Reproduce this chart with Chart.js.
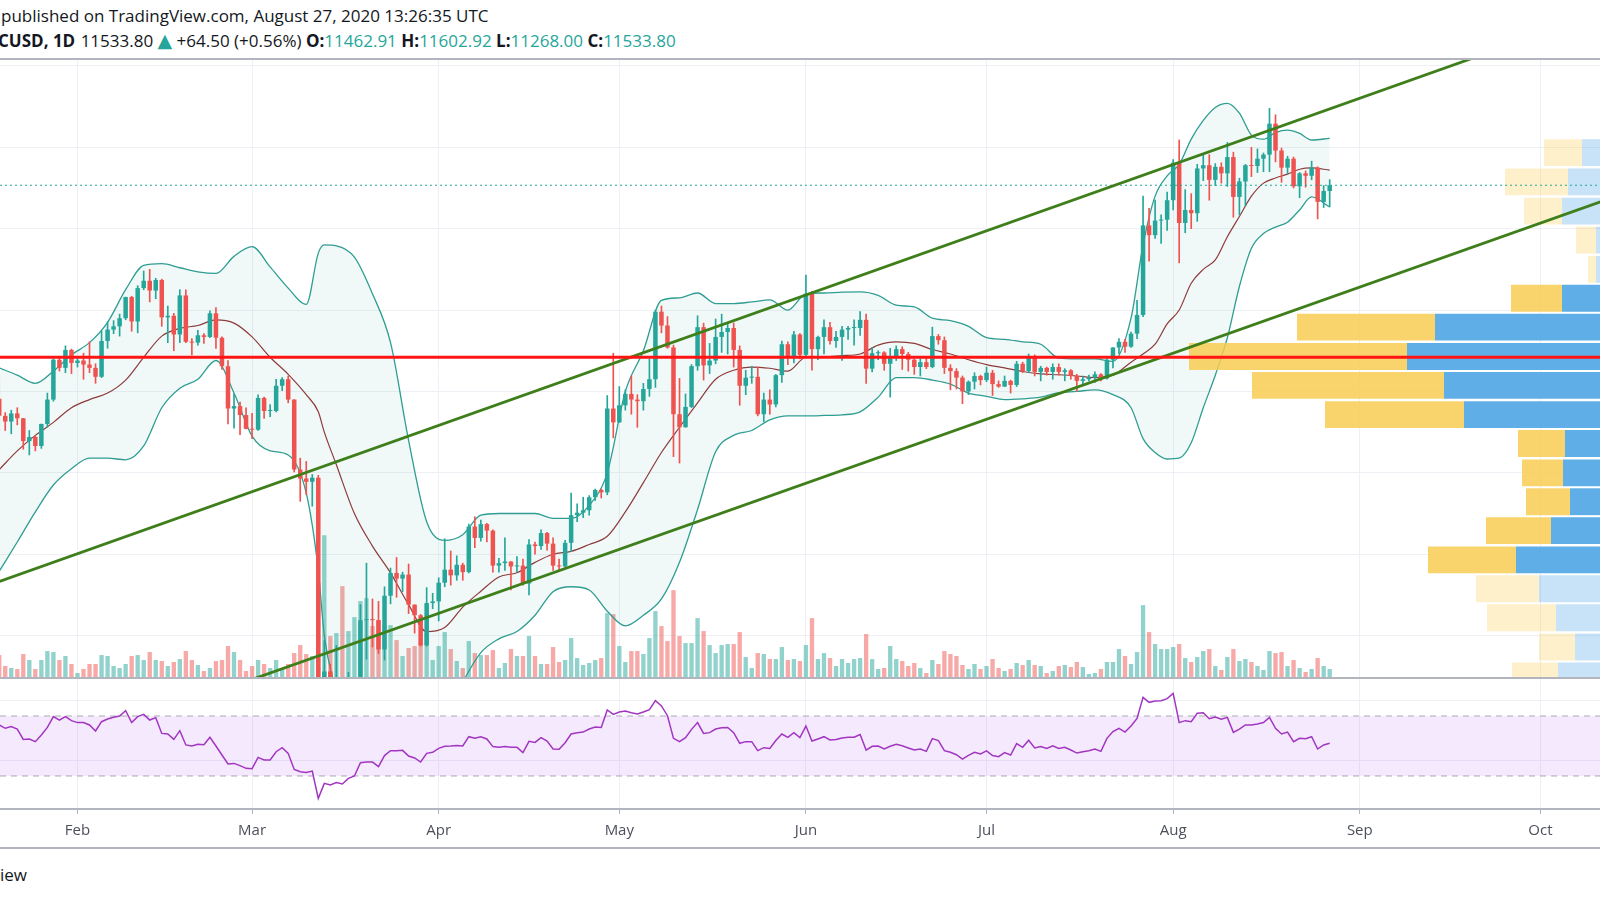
<!DOCTYPE html>
<html lang="en">
<head>
  <meta charset="UTF-8">
  <title>BTCUSD 1D</title>
  <script src="https://cdn.jsdelivr.net/npm/chart.js@4.4.0/dist/chart.umd.min.js"></script>
  <style>
    html, body { margin: 0; padding: 0; background: #ffffff; }
    body { width: 1600px; height: 900px; position: relative; overflow: hidden; font-family: 'Open Sans', sans-serif; color: #131722; }
    .txt { position: absolute; left: 0; white-space: pre; font-size: 17px; line-height: 20px; }
    .txt b { font-weight: 700; }
    .up { color: #26a69a; }
    .tri { color: #26a69a; font-size: 19px; font-family: 'DejaVu Sans', sans-serif; }
    .sep { position: absolute; left: 0; width: 1600px; height: 2px; background: #b2b5be; }
    canvas { position: absolute; left: 0; }
  </style>
</head>
<body>
  <div class="txt" style="top:6px; left:1px;">published on TradingView.com, August 27, 2020 13:26:35 UTC</div>
  <div class="txt" style="top:30px; left:-2px;"><b>CUSD, 1D</b> <span style="margin-left:1px">11533.80</span> <span class="tri">▲</span> +64.50 (+0.56%) <b>O:</b><span class="up">11462.91</span> <b>H:</b><span class="up">11602.92</span> <b>L:</b><span class="up">11268.00</span> <b>C:</b><span class="up">11533.80</span></div>

  <canvas id="main" width="1600" height="619" style="top:59px;"></canvas>
  <canvas id="rsi" width="1600" height="171" style="top:678px;"></canvas>

  <div class="sep" style="top:58px;"></div>
  <div class="sep" style="top:677px;"></div>
  <div class="sep" style="top:808px;"></div>
  <div class="sep" style="top:847px;"></div>
  <div class="txt" style="top:865px;">iew</div>

  <script>
    // day numbers: 2020 day of year, Jan 1 = 0. First candle is Jan 19.
    const firstDay = 18;
    const viewFrom = 18.13, viewTo = 283.9;

    const monthLabels = ['Feb', 'Mar', 'Apr', 'May', 'Jun', 'Jul', 'Aug', 'Sep', 'Oct'];
    const monthDays = [31, 60, 91, 121, 152, 182, 213, 244, 274];
    const priceGrid = [6000, 7000, 8000, 9000, 10000, 11000, 12000, 13000];

    // daily OHLC, Jan 19 -> Aug 27 2020
    const open = [
      8910, 8700, 8630, 8730, 8670, 8390, 8440, 8330, 8600, 8900, 9390, 9290, 9510,
      9350, 9380, 9330, 9290, 9180, 9620, 9760, 9800, 9900, 10160, 9860, 10270, 10360, 10240, 10370, 9910, 9930, 9700, 10180, 9610, 9600, 9690, 9670, 9960, 9660, 9310, 8790, 8820, 8710,
      8540, 8530, 8920, 8760, 8760, 9070, 9150, 8900, 8040, 7930, 7890, 7940, 4860, 5560, 5170, 5360, 5030, 5330, 5420, 6190, 6200, 6190, 5830, 6490, 6770, 6700, 6750, 6380, 6250, 5880, 6400,
      6420, 6650, 6810, 6740, 6870, 6780, 7340, 7200, 7370, 7290, 6860, 6890, 6910, 6850, 6860, 6640, 7120, 7100, 7260, 7130, 6860, 6850, 7140, 7480, 7510, 7540, 7700, 7790, 7760, 8790,
      8620, 8830, 8970, 8900, 8880, 9030, 9150, 9980, 9810, 9540, 8720, 8560, 8810, 9310, 9790, 9320, 9380, 9670, 9730, 9780, 9510, 9070, 9170, 9180, 8720, 8900, 8840, 9200, 9580, 9430, 9700,
      9450, 10200, 9520, 9670, 9790, 9620, 9670, 9760, 9780, 9780, 9880, 9280, 9470, 9480, 9340, 9430, 9520, 9460, 9390, 9300, 9360, 9300, 9680, 9630, 9290, 9250, 9170, 9000, 9120, 9190,
      9140, 9230, 9090, 9060, 9130, 9080, 9340, 9250, 9430, 9240, 9290, 9240, 9300, 9240, 9260, 9190, 9130, 9150, 9170, 9210, 9160, 9390, 9540, 9610, 9550, 9710, 9940, 11040, 10920, 11100, 11110,
      11350, 11810, 11070, 11230, 11190, 11740, 11780, 11600, 11760, 11680, 11880, 11390, 11580, 11780, 11770, 11860, 11910, 12290, 11960, 11750, 11860, 11520, 11680, 11650, 11750, 11330, 11462.91
    ];
    const high = [
      9170, 8740, 8770, 8800, 8670, 8520, 8450, 8600, 8980, 9400, 9420, 9560, 9520,
      9430, 9470, 9610, 9340, 9740, 9860, 9870, 9950, 10160, 10170, 10300, 10480, 10500, 10390, 10380, 10050, 9960, 10250, 10250, 9650, 9750, 9710, 9990, 10030, 9670, 9380, 8970, 8870, 8800,
      8730, 8960, 8930, 8840, 9150, 9170, 9190, 8900, 8180, 8140, 7980, 7970, 5940, 5650, 5880, 5370, 5550, 5440, 6380, 6890, 6450, 6420, 6600, 6830, 6960, 6780, 6880, 6380, 6260, 6590, 6520,
      6710, 7190, 7040, 6980, 6890, 7370, 7460, 7420, 7380, 7300, 6950, 7200, 6910, 6970, 6940, 7180, 7150, 7300, 7270, 7200, 6940, 7170, 7750, 7620, 7700, 7720, 7800, 7800, 8950, 9470,
      9060, 9020, 9190, 8960, 9100, 9400, 10000, 10050, 9920, 9570, 9160, 8970, 9330, 9930, 9840, 9590, 9890, 9950, 9850, 9840, 9560, 9260, 9310, 9300, 8980, 9020, 9210, 9620, 9610, 9740, 9710,
      10430, 10230, 9680, 9880, 9850, 9740, 9800, 9800, 9880, 9980, 9950, 9540, 9500, 9490, 9530, 9560, 9550, 9480, 9400, 9400, 9420, 9790, 9700, 9670, 9330, 9280, 9190, 9130, 9230, 9200,
      9300, 9260, 9130, 9190, 9140, 9370, 9360, 9460, 9450, 9310, 9300, 9340, 9340, 9280, 9270, 9210, 9190, 9200, 9240, 9220, 9420, 9540, 9650, 9640, 9730, 10120, 11400, 11250, 11350, 11170, 11450,
      11850, 12090, 11480, 11430, 11790, 11920, 11910, 11800, 11810, 12060, 11940, 11620, 11790, 12000, 11980, 11930, 12480, 12400, 11990, 11890, 11880, 11690, 11710, 11830, 11760, 11530, 11602.92
    ];
    const low = [
      8480, 8520, 8480, 8590, 8290, 8220, 8270, 8300, 8560, 8880, 9250, 9230, 9220,
      9300, 9150, 9230, 9100, 9170, 9530, 9710, 9680, 9880, 9740, 9720, 10250, 10100, 10140, 9800, 9600, 9500, 9600, 9600, 9450, 9570, 9590, 9660, 9530, 9270, 8600, 8550, 8470, 8540,
      8420, 8520, 8670, 8690, 8750, 9010, 8860, 8010, 7650, 7730, 7590, 4400, 3850, 5090, 5100, 4450, 4960, 5080, 5280, 5710, 5860, 5780, 5700, 6390, 6470, 6540, 6270, 6030, 5870, 5870, 6330,
      6180, 6600, 6620, 6680, 6680, 6770, 7080, 7160, 7150, 6780, 6780, 6800, 6560, 6780, 6620, 6500, 7000, 7060, 7050, 6800, 6790, 6840, 7030, 7400, 7450, 7480, 7660, 7690, 7730, 8430,
      8620, 8770, 8720, 8560, 8770, 8940, 9050, 9720, 9530, 8200, 8120, 8560, 8800, 9260, 9140, 9220, 9340, 9480, 9460, 9300, 8830, 8960, 9100, 8700, 8630, 8720, 8810, 9110, 9330, 9350, 9400,
      9420, 9260, 9390, 9460, 9580, 9540, 9380, 9640, 9570, 9690, 9100, 9240, 9390, 9260, 8930, 9380, 9270, 9250, 9210, 9190, 9280, 9290, 9580, 9220, 9020, 9030, 8850, 8960, 9030, 9080,
      9120, 8950, 9050, 9060, 8980, 9060, 9230, 9230, 9190, 9130, 9200, 9150, 9200, 9130, 9150, 9000, 9090, 9130, 9110, 9130, 9150, 9290, 9460, 9480, 9540, 9650, 9920, 10600, 10880, 10820, 10980,
      11230, 10580, 10950, 11000, 11090, 11590, 11350, 11530, 11560, 11520, 11140, 11170, 11280, 11640, 11690, 11700, 11700, 11820, 11570, 11680, 11500, 11380, 11510, 11600, 11120, 11260, 11268.00
    ];
    const close = [
      8700, 8630, 8730, 8670, 8390, 8440, 8330, 8600, 8900, 9390, 9290, 9510, 9350,
      9380, 9330, 9290, 9180, 9620, 9760, 9800, 9900, 10160, 9860, 10270, 10360, 10240, 10370, 9910, 9930, 9700, 10180, 9610, 9600, 9690, 9670, 9960, 9660, 9310, 8790, 8820, 8710, 8540,
      8530, 8920, 8760, 8760, 9070, 9150, 8900, 8040, 7930, 7890, 7940, 4860, 5560, 5170, 5360, 5030, 5330, 5420, 6190, 6200, 6190, 5830, 6490, 6770, 6700, 6750, 6380, 6250, 5880, 6400, 6420,
      6650, 6810, 6740, 6870, 6780, 7340, 7200, 7370, 7290, 6860, 6890, 6910, 6850, 6860, 6640, 7120, 7100, 7260, 7130, 6860, 6850, 7140, 7480, 7510, 7540, 7700, 7790, 7760, 8790, 8620,
      8830, 8970, 8900, 8880, 9030, 9150, 9980, 9810, 9540, 8720, 8560, 8810, 9310, 9790, 9320, 9380, 9670, 9730, 9780, 9510, 9070, 9170, 9180, 8720, 8900, 8840, 9200, 9580, 9430, 9700, 9450,
      10200, 9520, 9670, 9790, 9620, 9670, 9760, 9780, 9780, 9880, 9280, 9470, 9480, 9340, 9430, 9520, 9460, 9390, 9300, 9360, 9300, 9680, 9630, 9290, 9250, 9170, 9000, 9120, 9190, 9140,
      9230, 9090, 9060, 9130, 9080, 9340, 9250, 9430, 9240, 9290, 9240, 9300, 9240, 9260, 9190, 9130, 9150, 9170, 9210, 9160, 9390, 9540, 9610, 9550, 9710, 9940, 11040, 10920, 11100, 11110, 11350,
      11810, 11070, 11230, 11190, 11740, 11780, 11600, 11760, 11680, 11880, 11390, 11580, 11780, 11770, 11860, 11910, 12290, 11960, 11750, 11860, 11520, 11680, 11650, 11750, 11330, 11462.91, 11533.80
    ];
    const volume = [
      23, 12, 10, 9, 24, 18, 9, 18, 27, 26, 18, 22, 14,
      5, 9, 14, 14, 23, 22, 12, 10, 14, 22, 23, 18, 26, 18, 17, 12, 16, 19, 27, 18, 13, 7, 10, 17, 18, 32, 26, 18, 7,
      12, 18, 14, 10, 18, 10, 14, 25, 33, 24, 22, 95, 143, 42, 45, 92, 47, 61, 77, 80, 52, 58, 53, 53, 38, 22, 30, 32, 35, 45, 18,
      32, 46, 29, 17, 10, 37, 25, 23, 23, 28, 10, 15, 29, 22, 22, 42, 22, 14, 14, 31, 16, 18, 40, 20, 13, 15, 18, 20, 65, 64,
      32, 16, 27, 27, 24, 40, 67, 52, 37, 88, 42, 35, 35, 60, 47, 33, 25, 33, 34, 34, 46, 21, 10, 25, 24, 19, 19, 31, 18, 19, 17,
      33, 60, 19, 25, 20, 12, 19, 15, 19, 20, 44, 19, 9, 10, 32, 19, 17, 12, 15, 10, 5, 18, 14, 27, 24, 22, 13, 9, 14, 9,
      12, 19, 10, 7, 9, 15, 13, 18, 13, 12, 5, 7, 12, 13, 11, 16, 11, 4, 5, 9, 16, 16, 29, 22, 14, 26, 73, 46, 34, 29, 29,
      31, 34, 20, 16, 21, 27, 29, 12, 8, 21, 29, 17, 19, 16, 12, 8, 27, 25, 26, 12, 18, 10, 6, 9, 20, 12, 9
    ];
    const rsi = [
      64.0, 61.8, 62.9, 61.3, 54.4, 54.7, 52.9, 57.3, 62.4, 69.6, 67.3, 69.6, 66.9,
      65.6, 65.6, 64.0, 60.0, 66.2, 68.0, 69.1, 70.0, 73.6, 65.6, 69.6, 71.1, 67.3, 68.9, 58.4, 58.0, 54.4, 60.2, 50.7, 50.0, 51.1, 50.9, 55.8, 50.0, 44.0, 38.0, 38.4, 36.9, 35.1,
      34.9, 42.4, 40.7, 40.7, 46.2, 48.9, 45.1, 34.4, 32.9, 32.4, 33.3, 15.1, 25.1, 24.0, 25.6, 24.7, 28.4, 30.0, 38.9, 39.3, 39.3, 36.2, 43.6, 46.9, 46.9, 47.1, 43.3, 42.0, 39.3, 45.1, 45.8,
      48.4, 49.8, 50.0, 50.4, 50.0, 56.2, 55.1, 56.2, 54.7, 49.6, 49.1, 49.6, 49.1, 49.1, 45.6, 53.1, 52.4, 55.6, 53.3, 48.0, 47.8, 52.2, 58.0, 58.9, 59.3, 61.3, 62.7, 62.4, 74.0, 71.1,
      72.7, 73.3, 72.2, 71.3, 72.7, 74.2, 80.2, 76.7, 70.2, 55.1, 52.9, 55.6, 61.1, 65.6, 58.4, 58.9, 61.3, 62.2, 62.4, 58.9, 51.8, 52.9, 52.9, 46.9, 48.9, 48.4, 53.6, 58.0, 55.8, 58.9, 55.6,
      63.3, 53.3, 54.7, 56.2, 54.0, 54.4, 55.3, 55.8, 55.8, 57.6, 47.3, 49.8, 50.0, 48.0, 49.8, 51.1, 50.2, 48.7, 47.3, 48.0, 46.4, 54.9, 53.6, 46.9, 45.8, 44.2, 41.3, 43.8, 45.8, 44.7,
      46.7, 43.6, 42.9, 45.6, 44.0, 51.6, 49.1, 53.8, 48.7, 49.6, 48.4, 50.2, 48.4, 49.1, 47.3, 45.3, 46.2, 46.9, 48.0, 46.4, 55.1, 59.6, 61.8, 59.3, 63.3, 68.4, 82.4, 79.1, 80.0, 80.2, 81.6,
      85.1, 65.6, 66.9, 66.2, 71.8, 72.2, 68.2, 69.3, 67.8, 69.1, 59.1, 61.3, 64.0, 64.0, 64.7, 65.6, 69.1, 61.8, 58.0, 59.3, 52.9, 55.1, 54.9, 56.2, 48.0, 50.7, 51.8
    ];

    // Bollinger bands
    const bbDays = [18, 21, 24, 27, 30, 33, 36, 39, 42, 45, 48, 51, 54, 57, 60, 63, 66, 69, 71, 72, 74, 77, 80, 83, 86, 89, 92, 95, 98, 101, 104, 107, 110, 113, 116, 119, 122, 125, 128, 131, 134, 137, 140, 143, 146, 149, 152, 155, 158, 161, 164, 167, 170, 173, 176, 179, 182, 185, 188, 191, 194, 197, 200, 203, 206, 208, 210, 212, 214, 216, 218, 220, 222, 224, 226, 228, 230, 232, 234, 236, 239];
    const bbUpper = [9290, 9200, 9100, 9250, 9450, 9600, 9850, 10250, 10550, 10570, 10520, 10470, 10450, 10660, 10780, 10530, 10270, 10070, 10700, 10800, 10790, 10650, 10200, 9600, 8400, 7400, 7170, 7240, 7480, 7500, 7500, 7500, 7440, 7440, 7600, 8000, 9000, 9500, 10120, 10150, 10210, 10080, 10080, 10100, 10125, 10000, 10200, 10210, 10220, 10223, 10180, 10060, 10038, 9900, 9870, 9800, 9660, 9640, 9610, 9580, 9410, 9400, 9400, 9370, 9900, 10800, 11400, 11650, 11790, 12100, 12330, 12490, 12540, 12420, 12150, 12100, 12180, 12210, 12170, 12090, 12110];
    const bbBasis = [8040, 8270, 8460, 8620, 8800, 8900, 8980, 9140, 9420, 9680, 9775, 9810, 9880, 9840, 9670, 9420, 9210, 8960, 8750, 8500, 8100, 7500, 7100, 6770, 6380, 6050, 6100, 6350, 6545, 6720, 6773, 6900, 7000, 7035, 7120, 7220, 7520, 7880, 8250, 8560, 8860, 9150, 9260, 9300, 9285, 9250, 9420, 9425, 9440, 9460, 9570, 9610, 9590, 9515, 9460, 9390, 9330, 9290, 9245, 9215, 9205, 9190, 9170, 9200, 9360, 9460, 9580, 9830, 10000, 10330, 10500, 10616, 10900, 11150, 11400, 11560, 11623, 11670, 11730, 11746, 11720];
    const bbLower = [6790, 7150, 7520, 7850, 8050, 8180, 8180, 8160, 8330, 8800, 9040, 9150, 9380, 8980, 8450, 8270, 8220, 7750, 6800, 6000, 5300, 4400, 3950, 3900, 4300, 4700, 5000, 5430, 5790, 5960, 6050, 6250, 6540, 6600, 6560, 6300, 6120, 6250, 6450, 6900, 7550, 8260, 8460, 8520, 8650, 8700, 8700, 8705, 8713, 8750, 8930, 9170, 9170, 9140, 9090, 8980, 8940, 8900, 8910, 8930, 8985, 9000, 9020, 8960, 8800, 8420, 8250, 8170, 8180, 8370, 8800, 9200, 9660, 10290, 10760, 10940, 11020, 11080, 11230, 11390, 11266];

    // visible range volume profile (row price, up part, down part)
    const vpPrices = [11935, 11575, 11215, 10860, 10500, 10145, 9790, 9430, 9075, 8715, 8360, 8000, 7645, 7290, 6930, 6575, 6220, 5860, 5505];
    const vpUp = [18, 32, 38, 4, 4, 38, 165, 193, 156, 136, 35, 37, 30, 49, 84, 61, 44, 25, 42];
    const vpDown = [38, 63, 38, 20, 8, 51, 138, 218, 192, 139, 47, 41, 44, 65, 88, 63, 69, 36, 46];
    const vpValueArea = [5, 14];

    // drawings
    const pocPrice = 9420;
    const lastPrice = 11533.80;
    const channelDays = [18, 284];
    const channelUpper = [6664, 13654];
    const channelLower = [4361, 11331];
    const rsiLevels = [70, 30];

    const UP = '#26a69a', DOWN = '#ef5350';
    const GRID = '#eef0f5';
    const days = close.map((_, i) => firstDay + i);
    const isUp = close.map((c, i) => c >= open[i]);
    const candleColor = isUp.map(u => u ? UP : DOWN);
    const volColor = isUp.map(u => u ? 'rgba(38,166,154,0.5)' : 'rgba(239,83,80,0.5)');
    const inVA = i => i >= vpValueArea[0] && i <= vpValueArea[1];

    Chart.defaults.font.family = "'Open Sans', sans-serif";
    Chart.defaults.animation = false;

    const hidden = { display: false };

    new Chart(document.getElementById('main'), {
      type: 'bar',
      data: {
        datasets: [
          { type: 'line', data: [{ x: viewFrom, y: pocPrice }, { x: viewTo, y: pocPrice }],
            borderColor: '#ff1414', borderWidth: 2.8, pointRadius: 0, order: 0 },
          { type: 'line', data: channelDays.map((d, i) => ({ x: d, y: channelUpper[i] })),
            borderColor: '#3f7f1b', borderWidth: 2.8, pointRadius: 0, order: 1 },
          { type: 'line', data: channelDays.map((d, i) => ({ x: d, y: channelLower[i] })),
            borderColor: '#3f7f1b', borderWidth: 2.8, pointRadius: 0, order: 1 },
          { type: 'line', data: [{ x: viewFrom, y: lastPrice }, { x: viewTo, y: lastPrice }],
            borderColor: UP, borderWidth: 1, borderDash: [2, 3], pointRadius: 0, order: 2 },
          { type: 'bar', indexAxis: 'y', xAxisID: 'xVP', yAxisID: 'yVP', grouped: false,
            data: vpPrices.map((p, i) => ({ x: [0, vpUp[i]], y: p })),
            backgroundColor: vpPrices.map((_, i) => inVA(i) ? 'rgba(74,163,229,0.88)' : 'rgba(74,163,229,0.3)'),
            categoryPercentage: 1, barPercentage: 0.93, order: 3 },
          { type: 'bar', indexAxis: 'y', xAxisID: 'xVP', yAxisID: 'yVP', grouped: false,
            data: vpPrices.map((p, i) => ({ x: [vpUp[i], vpUp[i] + vpDown[i]], y: p })),
            backgroundColor: vpPrices.map((_, i) => inVA(i) ? 'rgba(248,204,84,0.85)' : 'rgba(248,204,84,0.3)'),
            categoryPercentage: 1, barPercentage: 0.93, order: 3 },
          { type: 'bar', grouped: false, data: days.map((d, i) => ({ x: d, y: [open[i], close[i]] })),
            backgroundColor: candleColor, categoryPercentage: 1, barPercentage: 0.75, minBarLength: 1, order: 4 },
          { type: 'bar', grouped: false, data: days.map((d, i) => ({ x: d, y: [low[i], high[i]] })),
            backgroundColor: candleColor, barThickness: 1, order: 5 },
          { type: 'line', data: bbDays.map((d, i) => ({ x: d, y: bbUpper[i] })),
            borderColor: '#2f9d92', borderWidth: 1.3, pointRadius: 0, cubicInterpolationMode: 'monotone', order: 6 },
          { type: 'line', data: bbDays.map((d, i) => ({ x: d, y: bbBasis[i] })),
            borderColor: '#8e3b3b', borderWidth: 1.2, pointRadius: 0, cubicInterpolationMode: 'monotone', order: 6 },
          { type: 'line', data: bbDays.map((d, i) => ({ x: d, y: bbLower[i] })),
            borderColor: '#2f9d92', borderWidth: 1.3, pointRadius: 0, cubicInterpolationMode: 'monotone',
            fill: 8, backgroundColor: 'rgba(38,166,154,0.07)', order: 6 },
          { type: 'bar', grouped: false, yAxisID: 'yVol', data: days.map((d, i) => ({ x: d, y: volume[i] })),
            backgroundColor: volColor, categoryPercentage: 1, barPercentage: 0.72, order: 7 }
        ]
      },
      options: {
        responsive: false,
        devicePixelRatio: 1,
        layout: { padding: 0 },
        plugins: { legend: hidden, tooltip: { enabled: false } },
        scales: {
          x: {
            type: 'linear', min: viewFrom, max: viewTo, offset: false,
            grid: { color: GRID, drawTicks: false, offset: false },
            border: { display: false }, ticks: { display: false },
            afterBuildTicks: s => { s.ticks = monthDays.map(v => ({ value: v })); }
          },
          y: {
            type: 'linear', min: 5479, max: 13085,
            grid: { color: GRID, drawTicks: false },
            border: { display: false }, ticks: { display: false },
            afterBuildTicks: s => { s.ticks = priceGrid.map(v => ({ value: v })); }
          },
          yVol: { type: 'linear', display: false, min: 0, max: 620 },
          xVP: { type: 'linear', axis: 'x', display: false, min: 0, max: 1600, reverse: true, offset: false },
          yVP: { type: 'linear', axis: 'y', display: false, min: 5479, max: 13085, offset: false }
        }
      }
    });

    new Chart(document.getElementById('rsi'), {
      type: 'line',
      data: {
        datasets: [
          { data: days.map((d, i) => ({ x: d, y: rsi[i] })),
            borderColor: '#a236c0', borderWidth: 1.5, pointRadius: 0, order: 0 },
          { data: [{ x: viewFrom, y: rsiLevels[0] }, { x: viewTo, y: rsiLevels[0] }],
            borderColor: '#a9acb4', borderWidth: 1, borderDash: [6, 5], pointRadius: 0,
            fill: 2, backgroundColor: 'rgba(155,55,235,0.11)', order: 1 },
          { data: [{ x: viewFrom, y: rsiLevels[1] }, { x: viewTo, y: rsiLevels[1] }],
            borderColor: '#a9acb4', borderWidth: 1, borderDash: [6, 5], pointRadius: 0, order: 1 }
        ]
      },
      options: {
        responsive: false,
        devicePixelRatio: 1,
        layout: { padding: 0 },
        plugins: { legend: hidden, tooltip: { enabled: false } },
        scales: {
          x: {
            type: 'linear', min: viewFrom, max: viewTo,
            grid: { color: GRID, tickColor: '#b2b5be', tickLength: 5 },
            border: { display: false },
            ticks: {
              autoSkip: false, maxRotation: 0, padding: 8,
              color: '#4c505b', font: { size: 15 },
              callback: v => monthLabels[monthDays.indexOf(v)]
            },
            afterBuildTicks: s => { s.ticks = monthDays.map(v => ({ value: v })); },
            afterFit: s => { s.height = 40; }
          },
          y: {
            type: 'linear', min: 8, max: 95.33,
            grid: { color: GRID, drawTicks: false },
            border: { display: false }, ticks: { display: false },
            afterBuildTicks: s => { s.ticks = [40, 80].map(v => ({ value: v })); }
          }
        }
      }
    });
  </script>
</body>
</html>
